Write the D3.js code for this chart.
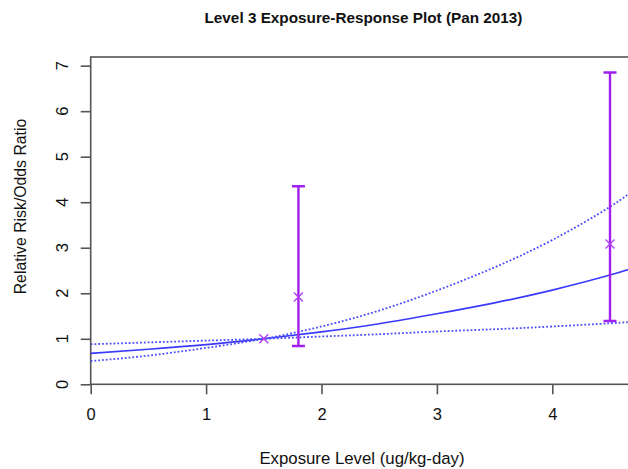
<!DOCTYPE html>
<html><head><meta charset="utf-8">
<script src="https://cdn.jsdelivr.net/npm/d3@7"></script>
<style>body{margin:0;background:#fff}svg{display:block;font-family:Arial,"Liberation Sans",sans-serif}</style>
</head><body><svg id="c" width="628" height="469"></svg>
<script>
// Data
const curveX     = [0, 0.5, 1, 1.5, 2, 2.5, 3, 3.5, 4, 4.5, 4.75];
const estimate   = [0.68, 0.77, 0.87, 1.0, 1.15, 1.33, 1.55, 1.79, 2.07, 2.40, 2.60];
const upperBound = [0.51, 0.63, 0.80, 1.0, 1.27, 1.62, 2.06, 2.57, 3.17, 3.90, 4.36];
const lowerBound = [0.88, 0.92, 0.96, 1.0, 1.05, 1.10, 1.16, 1.21, 1.27, 1.34, 1.38];
const studyX     = [1.5, 1.8, 4.5];
const studyRR    = [1.0, 1.92, 3.08];
const studyLo    = [null, 0.84, 1.39];
const studyHi    = [null, 4.35, 6.85];
const xTicks = [0, 1, 2, 3, 4];
const yTicks = [0, 1, 2, 3, 4, 5, 6, 7];

const svg = d3.select("#c");
const x = d3.scaleLinear().domain([0, 5]).range([90.7, 90.7 + 5 * 115.4]);
const y = d3.scaleLinear().domain([0, 7.19]).range([384.3, 57]);
const axisCol = "#555";
const txtCol = "#111";

// clip
svg.append("clipPath").attr("id","clip").append("rect")
  .attr("x", x(0)).attr("y", y(7.19)).attr("width", 700).attr("height", y(0) - y(7.19));

// frame
svg.append("rect").attr("x", x(0)).attr("y", y(7.19)).attr("width", 700).attr("height", y(0) - y(7.19))
  .attr("fill","none").attr("stroke", axisCol).attr("stroke-width", 1.6);

// axes
const xa = svg.append("g").attr("transform", `translate(0,${y(0)})`)
  .call(d3.axisBottom(x).tickValues(xTicks).tickSize(10).tickPadding(14).tickFormat(d3.format("d")));
xa.select(".domain").remove();
xa.selectAll("line").attr("stroke", axisCol).attr("stroke-width", 1.6);
xa.selectAll("text").attr("font-size", 16.5).attr("fill", txtCol).attr("font-family","Arial, Liberation Sans");

const ya = svg.append("g").attr("transform", `translate(${x(0)},0)`)
  .call(d3.axisLeft(y).tickValues(yTicks).tickSize(10).tickFormat(d3.format("d")));
ya.select(".domain").remove();
ya.selectAll("line").attr("stroke", axisCol).attr("stroke-width", 1.6);
ya.selectAll("text").remove();
svg.append("g").selectAll("text").data(yTicks).join("text")
  .attr("transform", d => `translate(62,${y(d)}) rotate(-90)`)
  .attr("text-anchor","middle").attr("dy","0.36em")
  .attr("font-size", 16.5).attr("fill", txtCol).text(d => d);

// titles
svg.append("text").attr("x", 363.5).attr("y", 23).attr("text-anchor","middle")
  .attr("font-size", 15.3).attr("font-weight","bold").attr("fill", txtCol)
  .text("Level 3 Exposure-Response Plot (Pan 2013)");
svg.append("text").attr("x", 362).attr("y", 464).attr("text-anchor","middle")
  .attr("font-size", 16.8).attr("fill", txtCol).text("Exposure Level (ug/kg-day)");
svg.append("text").attr("transform","translate(20,206.5) rotate(-90)").attr("text-anchor","middle")
  .attr("dy","0.36em").attr("font-size", 15.8).attr("fill", txtCol).text("Relative Risk/Odds Ratio");

// curves
const g = svg.append("g").attr("clip-path","url(#clip)");
const line = d3.line().x(d => x(d[0])).y(d => y(d[1])).curve(d3.curveNatural);
const mk = arr => curveX.map((v, i) => [v, arr[i]]);
g.append("path").attr("d", line(mk(estimate))).attr("fill","none").attr("stroke","#3a3aff").attr("stroke-width",1.7);
[upperBound, lowerBound].forEach(a => {
  g.append("path").attr("d", line(mk(a))).attr("fill","none").attr("stroke","#4a4aff")
    .attr("stroke-width",1.8).attr("stroke-dasharray","1.8,2");
});

// error bars
const purple = "#a020f0";
studyX.forEach((sx, i) => {
  if (studyLo[i] == null) return;
  const px = x(sx);
  g.append("line").attr("x1", px).attr("x2", px).attr("y1", y(studyLo[i])).attr("y2", y(studyHi[i]))
    .attr("stroke", purple).attr("stroke-width", 2.4);
  [studyLo[i], studyHi[i]].forEach(v => g.append("line").attr("x1", px - 6.5).attr("x2", px + 6.5)
    .attr("y1", y(v)).attr("y2", y(v)).attr("stroke", purple).attr("stroke-width", 2.4));
});
// point markers (x)
studyX.forEach((sx, i) => {
  const px = x(sx), py = y(studyRR[i]), s = 4.5;
  g.append("path").attr("d", `M${px-s},${py-s}L${px+s},${py+s}M${px-s},${py+s}L${px+s},${py-s}`)
    .attr("stroke", "#b040f0").attr("stroke-width", 1.4).attr("fill","none");
});
</script></body></html>
